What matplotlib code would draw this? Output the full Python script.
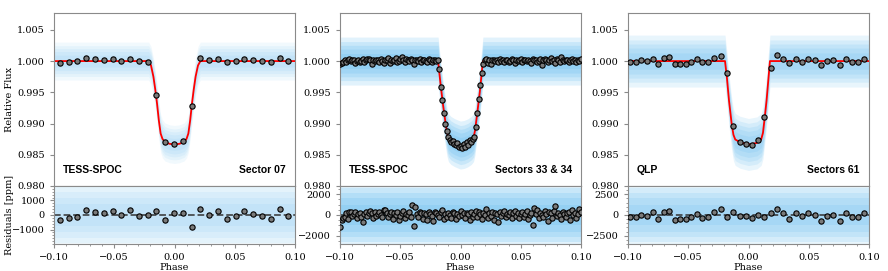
import numpy as np
import matplotlib
matplotlib.use('Agg')
import matplotlib.pyplot as plt
from matplotlib.ticker import AutoMinorLocator

plt.rcParams['font.family'] = 'DejaVu Serif'

# ---- panel 1 : TESS-SPOC, Sector 07 ----
phase1 = np.linspace(-0.0952, 0.0945, 27)
flux1 = [0.99968, 0.99984, 0.99995, 1.00043, 1.00027, 1.00016, 1.00032, 1.00005, 1.00037,
         1.00000, 0.99984, 0.99452, 0.98707, 0.98670, 0.98713, 0.99276, 1.00048, 1.00010,
         1.00032, 0.99979, 1.00000, 1.00032, 1.00016, 1.00005, 0.99979, 1.00043, 1.00005]
resid1 = [-364, -227, -114, 364, 227, 114, 273, -23, 318, -68, -23, 295, -318, 114,
          114, -795, 432, 23, 250, -273, -68, 250, 91, -45, -295, 386, -45]
model1_phase = [-0.1, -0.0215, -0.0195, -0.0175, -0.016, -0.0145, -0.013, -0.0115, -0.010,
                -0.008, -0.004, 0.0, 0.004, 0.008, 0.010, 0.0115, 0.013, 0.0145, 0.016,
                0.0175, 0.0195, 0.0215, 0.1]
model1_flux = [1.0, 1.0, 0.9993, 0.9975, 0.9955, 0.9932, 0.9905, 0.9884, 0.98755,
               0.98705, 0.98675, 0.98665, 0.98675, 0.98705, 0.98755, 0.9884, 0.9905, 0.9932,
               0.9955, 0.9975, 0.9993, 1.0, 1.0]

# ---- panel 2 : TESS-SPOC, Sectors 33 & 34 (flux as ppm offset from 1) ----
flux2_ppm = [
    -450, -250, -100, 150, -200, 250, 300, -50, 100, 200,
    -300, 50, 150, -150, 0, 300, -200, 100, 350, 400,
    150, -450, 200, 50, 250, 100, -100, 300, 0, -250,
    150, 200, 450, -350, 100, 0, 250, 500, -150, 50,
    350, 600, 100, -200, 300, 150, -50, 400, 250, -400,
    100, 200, 0, 350, -100, 150, 250, 50, -200, 300,
    100, -100, 200, 150, 0, 100,
    -1200, -4200, -6300, -8300, -10000, -11200, -12100, -12600, -13000, -12800,
    -13300, -13500, -13100, -13700, -13600, -13900, -13200, -13800, -12900, -13400,
    -12700, -12900, -12400, -12100, -10500, -8300, -6000, -3900, -1900, -400,
    200, 350, -300, 100, -450, 150, 250, 0, 100, -200,
    300, 50, 150, -100, 200, 250, -150, 50, 300, 100,
    -250, 150, 0, 200, 350, -100, 100, 250, -50, 150,
    0, -300, 300, 100, 200, -150, 50, 400, -600, 150,
    350, 100, -200, 250, 450, 0, 150, -350, 300, 100,
    -100, 600, 200, -50, 150, 250, -200, 100, 300, 0,
    150, -150, 200, 50, 300]
resid2 = [
    -1200, -450, -300, -150, 200, -350, 250, 300, -100, 100,
    250, -250, 50, 150, -200, -650, 100, 300, -100, 200,
    400, 150, -300, 250, -100, 100, 300, 0, -200, 450,
    500, 200, -150, 100, 300, -400, 150, 0, 250, -500,
    -100, 200, 350, -300, 100, 0, 250, -150, 950, -1100,
    750, 100, -200, 300, 150, -350, 200, 50, -450, 250,
    100, -100, -600, 300, 150, 0, -200, 250, 450, -350,
    100, -150, 200, 0, -250, 300, 150, -400, 100, -100,
    350, 0, 200, -300, 150, 100, -450, 250, -200, 50,
    400, -150, 300, 100, -350, 200, 0, 550, -250, 150,
    -100, 300, -500, 200, 100, -650, 250, -50, 150, 350,
    -200, 100, 0, 250, -300, 150, 400, -100, 200, -250,
    50, 300, -150, 100, 350, -400, 0, 200, -1000, 650,
    100, 500, -300, 200, 0, -150, 350, 100, -600, 250,
    150, -250, 400, 850, -100, 200, 0, -350, 300, 100,
    -200, 150, 250, -450, 500, 0, 200, -300, 100, 550,
    250]
phase2 = np.linspace(-0.1, 0.1, len(flux2_ppm))
flux2 = 1.0 + np.array(flux2_ppm) * 1e-6
model2_phase = [-0.1, -0.0186, -0.0165, -0.0145, -0.0125, -0.0112, -0.0100, -0.008, -0.005,
                -0.002, 0.0, 0.003, 0.006, 0.009, 0.0108, 0.0120, 0.0140, 0.0160, 0.0186, 0.1]
model2_flux = [1.0, 1.0, 0.9962, 0.9930, 0.9902, 0.9886, 0.98775, 0.9873, 0.98695,
               0.9867, 0.98655, 0.98665, 0.9869, 0.9873, 0.98775, 0.9888, 0.9918, 0.9950, 1.0, 1.0]

# ---- panel 3 : QLP, Sectors 61 ----
phase3 = [-0.0981, -0.0937, -0.0890, -0.0843, -0.0796, -0.0752, -0.0705, -0.0658, -0.0614,
          -0.0567, -0.0520, -0.0476, -0.0429, -0.0382, -0.0335, -0.0286, -0.0228, -0.0181,
          -0.0131, -0.0070, -0.0021, 0.0032, 0.0081, 0.0131, 0.0183, 0.0233, 0.0288, 0.0338,
          0.0393, 0.0446, 0.0495, 0.0550, 0.0600, 0.0652, 0.0705, 0.0757, 0.0807, 0.0859,
          0.0909, 0.0962]
flux3 = [0.9999, 0.9998, 1.0001, 1.0000, 1.0004, 0.9996, 1.0005, 1.0006, 0.9995, 0.9996,
         0.9996, 0.9999, 1.0003, 0.9998, 0.9999, 1.0005, 1.0008, 0.9981, 0.9896, 0.9870,
         0.98676, 0.98654, 0.9873, 0.9910, 0.9989, 1.0009, 1.0004, 0.9997, 1.0003, 0.9999,
         1.0003, 1.0002, 0.9994, 1.0000, 1.0001, 0.9993, 1.0003, 0.9998, 0.9998, 1.0004]
resid3 = [-200, -240, 40, -120, 320, -480, 400, 520, -560, -440, -520, -200, 160, -360,
          -200, 400, 680, -200, 400, -120, -120, -320, 0, -200, 240, 720, 280, -440, 200,
          -160, 240, 40, -680, -80, -40, -760, 200, -200, -280, 280]
model3_phase = [-0.1, -0.0195, -0.0180, -0.0162, -0.0140, -0.0125, -0.0110, -0.007, 0.0,
                0.007, 0.0105, 0.0120, 0.0135, 0.0150, 0.0178, 0.1]
model3_flux = [1.0, 1.0, 0.9975, 0.9937, 0.9900, 0.9882, 0.98745, 0.9870, 0.98665,
               0.9869, 0.98745, 0.9885, 0.9910, 0.9937, 1.0, 1.0]

# typical spread of the unbinned points (flux, ppm)
spread_flux = [0.0019, 0.0024, 0.0026]
spread_resid = [1500, 2000, 2500]

left_labels = ['TESS-SPOC', 'TESS-SPOC', 'QLP']
right_labels = ['Sector 07', 'Sectors 33 & 34', 'Sectors 61']
resid_ticks = [[-1000, 0, 1000], [-2000, 0, 2000], [-2500, 0, 2500]]
resid_lims = [2000, 2800, 3500]

panels = [
    (phase1, flux1, resid1, model1_phase, model1_flux),
    (phase2, flux2, resid2, model2_phase, model2_flux),
    (phase3, flux3, resid3, model3_phase, model3_flux),
]

lefts = [54 / 888, 340 / 888, 628 / 888]
width = 241 / 888
blue = '#4fb3ef'
layer_alpha = [0.08, 0.17, 0.13]     # alpha of each soft layer, per panel
layers = [1.6, 1.3, 1.05, 0.8, 0.5]  # fractions of the spread
spine_col = '#8a8a8a'

fig = plt.figure(figsize=(8.88, 2.71), dpi=100)

for i, (ph, fl, rs, mph, mfl) in enumerate(panels):
    ax = fig.add_axes([lefts[i], 0.3137, width, 0.6384])
    axr = fig.add_axes([lefts[i], 0.0996, width, 0.2141])
    mph = np.array(mph)
    mfl = np.array(mfl)
    w = spread_flux[i]
    r = spread_resid[i]

    # soft cloud for the unbinned data
    for f in layers:
        ax.fill_between(mph, mfl - f * w, mfl + f * w, color=blue,
                        alpha=layer_alpha[i], lw=0)
        axr.fill_between([-0.1, 0.1], [-f * r] * 2, [f * r] * 2, color=blue,
                         alpha=layer_alpha[i], lw=0)

    ax.plot(mph, mfl, color='red', lw=1.3, zorder=2)
    ax.plot(ph, fl, 'o', ms=3.8, mfc='#7a7a7a', mec='black', mew=0.8, zorder=3)

    ax.set_xlim(-0.1, 0.1)
    ax.set_ylim(0.980, 1.0077)
    ax.set_yticks([0.980, 0.985, 0.990, 0.995, 1.000, 1.005])
    ax.ticklabel_format(axis='y', useOffset=False)
    ax.tick_params(axis='x', bottom=False, labelbottom=False)
    ax.tick_params(axis='y', labelsize=7, color=spine_col, length=3)

    ax.text(0.035, 0.092, left_labels[i], transform=ax.transAxes, fontsize=7.5,
            fontweight='bold', family='Liberation Sans', va='center', ha='left')
    ax.text(0.962, 0.092, right_labels[i], transform=ax.transAxes, fontsize=7.5,
            fontweight='bold', family='Liberation Sans', va='center', ha='right')

    axr.axhline(0, color='#333333', ls='--', lw=1.3, alpha=0.85, zorder=2)
    axr.plot(ph, rs, 'o', ms=3.8, mfc='#7a7a7a', mec='black', mew=0.8, zorder=3)

    axr.set_xlim(-0.1, 0.1)
    axr.set_ylim(-resid_lims[i], resid_lims[i])
    axr.set_yticks(resid_ticks[i])
    axr.set_xticks([-0.1, -0.05, 0.0, 0.05, 0.1])
    axr.xaxis.set_minor_locator(AutoMinorLocator())
    axr.yaxis.set_minor_locator(AutoMinorLocator())
    axr.tick_params(which='both', labelsize=7, color=spine_col)
    axr.tick_params(which='major', length=3)
    axr.tick_params(which='minor', length=1.5)
    axr.set_xlabel('Phase', fontsize=7, labelpad=1)

    for a in (ax, axr):
        for s in a.spines.values():
            s.set_color(spine_col)

    if i == 0:
        ax.set_ylabel('Relative Flux', fontsize=7)
        axr.set_ylabel('Residuals [ppm]', fontsize=7)
        ax.yaxis.set_label_coords(-0.165, 0.5)
        axr.yaxis.set_label_coords(-0.165, 0.5)

fig.savefig('out.png', dpi=100)
